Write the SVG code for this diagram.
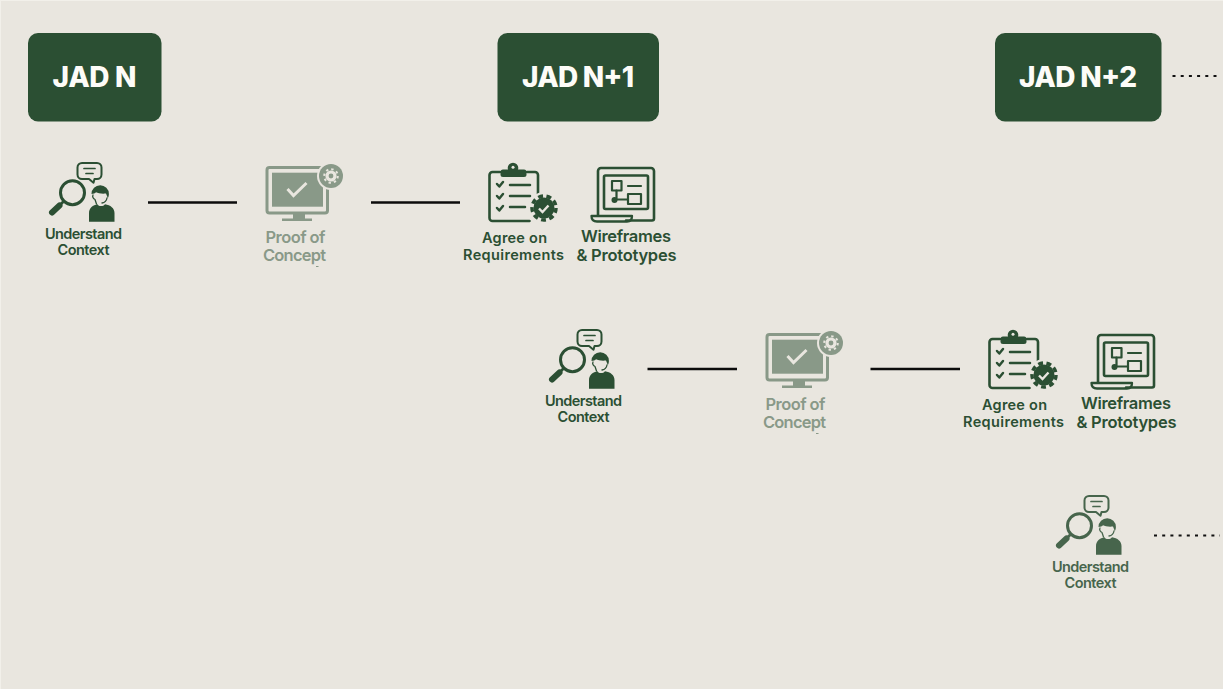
<svg xmlns="http://www.w3.org/2000/svg" xmlns:xlink="http://www.w3.org/1999/xlink" width="1223" height="689" viewBox="0 0 1223 689">
<style>
.box{fill:#2b4f33}
.title{font:800 28px Inter,"Liberation Sans",sans-serif;fill:#fdfcf8;text-anchor:middle}
.lab{font:600 14.500px Inter,"Liberation Sans",sans-serif;fill:#2b4f33;text-anchor:middle}
.l16{font-size:16.500px}
.s{fill:none;stroke:#2b4f33;stroke-width:2.600;stroke-linecap:round;stroke-linejoin:round}
.f{fill:#2b4f33}
.bg{fill:#e9e6df}
.line{stroke:#0c0c0c;stroke-width:2.600;fill:none}
.dash{stroke:#111;stroke-width:2;fill:none;stroke-dasharray:3 5.200}
.faded{opacity:.5}
.soft{opacity:.85}
</style>
<defs>
<g id="ctx">
<path class="s" d="M82 163h15a4.500 4.500 0 0 1 4.500 4.500v7a4.500 4.500 0 0 1-4.500 4.500h-2.500l-1 3.700-4.500-3.700h-7a4.500 4.500 0 0 1-4.500-4.500v-7a4.500 4.500 0 0 1 4.500-4.500z" style="stroke-width:2"/>
<path class="s" d="M84 168.500h11M86 173.500h7" style="stroke-width:1.700"/>
<circle class="s" cx="72.500" cy="192.700" r="12" style="stroke-width:3"/>
<path class="s" d="M63.500 201.500l-2.500 2.500" style="stroke-width:2.800"/>
<path class="s" d="M59.500 205.500l-7.500 7" style="stroke-width:6"/>
<path class="f" d="M91.500 194a8.700 8.700 0 0 1 17.400 0c0 1.500-.4 3-1.100 4l-1.800-4.500c-4 .5-8-.2-10-1.200-1 1.200-2.500 1.400-4.500 1.700z"/>
<path class="s" d="M93 195c-1 2 .5 4 2 4.500l1.500 4.500M107 198c-.5 3-2 4.500-5 5" style="stroke-width:1.300"/>
<path class="f" d="M89 221.700v-8.700c0-5 4-8 8.500-8.800 1 2.500 6 2.500 7.500 0 5.500.8 9.500 4 9.500 8.800v8.700z"/>
</g>
<g id="poc">
<rect class="s" x="267" y="167.500" width="60.500" height="45.500" rx="2.500" style="stroke-width:3"/>
<rect class="f" x="272" y="172.700" width="51" height="34"/>
<path class="f" d="M293 213h12v6.700h-12zM282 218.500h30v2.500h-30z"/>
<path d="M287.500 189l6 6.500 13-12.500" fill="none" stroke="#e9e6df" stroke-width="3"/>
<circle class="bg" cx="331" cy="176" r="14"/>
<circle class="f" cx="331" cy="176" r="12"/>
<circle cx="331" cy="176" r="4" fill="none" stroke="#e9e6df" stroke-width="3.200"/>
<circle cx="331" cy="176" r="6.800" fill="none" stroke="#e9e6df" stroke-width="2" stroke-dasharray="2.400 2.940"/>
<rect class="f" x="316" y="266" width="2.500" height="1"/>
</g>
<g id="req">
<path class="s" d="M500 172h-7.500a3 3 0 0 0-3 3v43a3 3 0 0 0 3 3h37M527 172h8a3 3 0 0 1 3 3v21"/>
<circle class="f" cx="513" cy="168" r="5.300"/>
<rect class="f" x="500.500" y="169.500" width="26" height="7.500" rx="2.500"/>
<circle class="bg" cx="513" cy="167.300" r="1.500"/>
<path class="s" d="M497 184l2.300 2.500 3.700-4.500M497 196l2.300 2.500 3.700-4.500M497 208l2.300 2.500 3.700-4.500" style="stroke-width:2.500"/>
<path class="s" d="M510 185h20M510 196h20M510 207h15" style="stroke-width:2.500"/>
<circle class="bg" cx="544" cy="208" r="16"/>
<circle class="f" cx="544" cy="208" r="10.500"/>
<circle cx="544" cy="208" r="12" fill="none" stroke="#2b4f33" stroke-width="3.500" stroke-dasharray="4.900 3.480"/>
<path d="M539 208.500l3.500 3.500 6-6.500" fill="none" stroke="#e9e6df" stroke-width="2.400"/>
</g>
<g id="wire">
<path class="s" d="M598 215v-44a3 3 0 0 1 3-3h50a3 3 0 0 1 3 3v47.500a2 2 0 0 1-2 2h-26"/>
<rect class="s" x="604" y="175.500" width="44" height="33.500" rx="1.500"/>
<path class="s" d="M591.500 216h40.500c0 3.500-2 5.500-5 5.500h-30c-3.500 0-5.500-2-5.500-5.500z" style="stroke-width:2.300"/>
<rect class="s" x="612" y="181" width="9.500" height="9.500" style="stroke-width:2.200"/>
<path class="s" d="M616.500 190.500v7.500M616.500 199.500h11.500M628 186h13" style="stroke-width:2.200"/>
<circle class="f" cx="614.500" cy="200" r="3"/>
<rect class="s" x="628" y="194" width="13" height="10" style="stroke-width:2.200"/>
</g>
</defs>
<rect width="1223" height="689" fill="#f2f0ea"/>
<rect x="1" y="1" width="1222" height="688" fill="#e9e6df"/>
<g id="connectors">
<path class="line" d="M148 202.500h89M371 202.500h89M647.500 369h89.500M870.500 369h89.500"/>
<path class="dash" d="M1172.500 76h49M1154 535.500h66"/>
</g>
<g id="jad-n"><rect class="box" x="28" y="33" width="133.500" height="88.500" rx="10"/><text class="title" x="94.500" y="86.500" textLength="84">JAD N</text></g>
<g id="jad-n1"><rect class="box" x="497.500" y="33" width="161.500" height="88.500" rx="10"/><text class="title" x="578" y="86.500" textLength="112">JAD N+1</text></g>
<g id="jad-n2"><rect class="box" x="995" y="33" width="166.500" height="88.500" rx="10"/><text class="title" x="1078" y="86.500" textLength="118">JAD N+2</text></g>

<g id="ctx-1"><use href="#ctx" xlink:href="#ctx"/><text class="lab" x="83.500" y="239" textLength="77">Understand</text><text class="lab" x="83.500" y="255" textLength="52">Context</text></g>
<g id="poc-1" class="faded"><use href="#poc" xlink:href="#poc"/><text class="lab l16" x="295.500" y="242.500" textLength="60">Proof of</text><text class="lab l16" x="294.500" y="261" textLength="63">Concept</text></g>
<g id="req-1"><use href="#req" xlink:href="#req"/><text class="lab" x="514.500" y="242.500" textLength="65">Agree on</text><text class="lab" x="513.500" y="260" textLength="101">Requirements</text></g>
<g id="wire-1"><use href="#wire" xlink:href="#wire"/><text class="lab l16" x="626" y="242" textLength="90">Wireframes</text><text class="lab l16" x="626.500" y="261" textLength="100">&amp; Prototypes</text></g>

<g id="ctx-2" transform="translate(500 167)"><use href="#ctx" xlink:href="#ctx"/><text class="lab" x="83.500" y="239" textLength="77">Understand</text><text class="lab" x="83.500" y="255" textLength="52">Context</text></g>
<g id="poc-2" class="faded" transform="translate(500 167)"><use href="#poc" xlink:href="#poc"/><text class="lab l16" x="295.500" y="242.500" textLength="60">Proof of</text><text class="lab l16" x="294.500" y="261" textLength="63">Concept</text></g>
<g id="req-2" transform="translate(500 167)"><use href="#req" xlink:href="#req"/><text class="lab" x="514.500" y="242.500" textLength="65">Agree on</text><text class="lab" x="513.500" y="260" textLength="101">Requirements</text></g>
<g id="wire-2" transform="translate(500 167)"><use href="#wire" xlink:href="#wire"/><text class="lab l16" x="626" y="242" textLength="90">Wireframes</text><text class="lab l16" x="626.500" y="261" textLength="100">&amp; Prototypes</text></g>

<g id="ctx-3" class="soft" transform="translate(1007 333)"><use href="#ctx" xlink:href="#ctx"/><text class="lab" x="83.500" y="239" textLength="77">Understand</text><text class="lab" x="83.500" y="255" textLength="52">Context</text></g>
</svg>
